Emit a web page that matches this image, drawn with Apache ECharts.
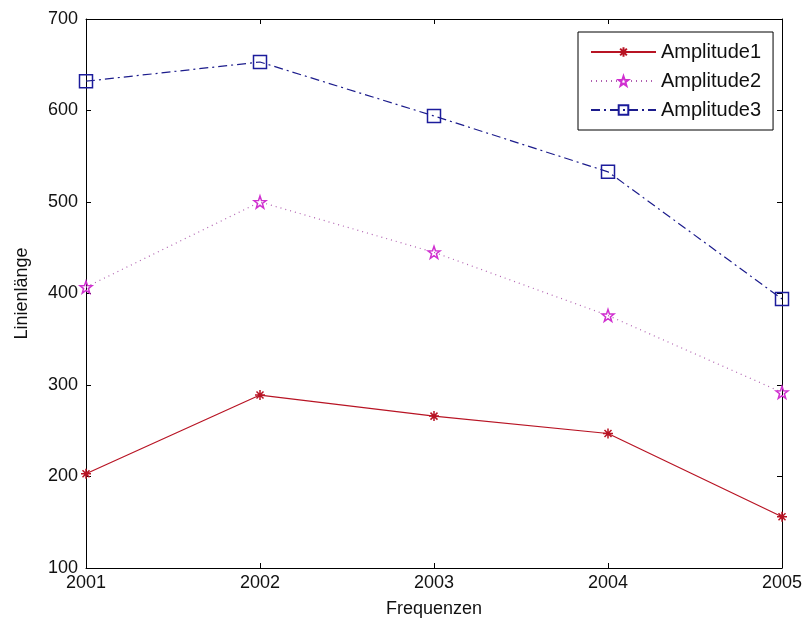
<!DOCTYPE html>
<html><head><meta charset="utf-8">
<script src="https://cdn.jsdelivr.net/npm/echarts@6/dist/echarts.min.js"></script>
<style>html,body{margin:0;padding:0;background:#fff}#c{width:807px;height:625px}</style>
</head><body><div id="c"></div>
<script>
const years = [2001, 2002, 2003, 2004, 2005];
const amplitude1 = [203, 289, 266, 247, 156];
const amplitude2 = [407, 500, 445, 376, 292];
const amplitude3 = [632, 653, 594, 533, 394];
const seriesNames = ['Amplitude1', 'Amplitude2', 'Amplitude3'];
const yTicks = [100, 200, 300, 400, 500, 600, 700];

const pair = arr => years.map((y, i) => [y, arr[i]]);
const font = 'Liberation Sans, Arial, sans-serif';
const asterisk = 'path://M0,-10L0,10M-10,0L10,0M-7,-7L7,7M-7,7L7,-7';
const star = 'path://M0,-10L2.35,-3.24L9.51,-3.09L3.8,1.24L5.88,8.09L0,4L-5.88,8.09L-3.8,1.24L-9.51,-3.09L-2.35,-3.24Z';

const chart = echarts.init(document.getElementById('c'));
const axisCommon = {
  axisLine: {show: true, lineStyle: {color: '#000', width: 1}},
  axisTick: {show: true, inside: true, length: 5, lineStyle: {color: '#000'}},
  splitLine: {show: false}
};
chart.setOption({
  animation: false,
  backgroundColor: '#fff',
  textStyle: {fontFamily: font},
  grid: {left: 86, right: 25, top: 19, bottom: 57},
  legend: {
    orient: 'vertical', left: 578, top: 32,
    data: seriesNames,
    backgroundColor: '#fff', borderColor: '#000', borderWidth: 1,
    padding: [10, 12, 10, 12], itemWidth: 65, itemHeight: 12, itemGap: 9,
    textStyle: {fontSize: 20, color: '#111', fontFamily: font}
  },
  xAxis: [
    Object.assign({type: 'value', min: 2001, max: 2005, interval: 1, position: 'bottom',
      name: 'Frequenzen', nameLocation: 'middle', nameGap: 32,
      nameTextStyle: {fontSize: 18, color: '#111'},
      axisLabel: {fontSize: 18, color: '#111', margin: 6, formatter: v => String(v)}}, axisCommon),
    Object.assign({type: 'value', min: 2001, max: 2005, interval: 1, position: 'top',
      axisLabel: {show: false}}, axisCommon)
  ],
  yAxis: [
    Object.assign({type: 'value', min: yTicks[0], max: yTicks[yTicks.length - 1], interval: 100,
      position: 'left', name: 'Linienlänge', nameLocation: 'middle', nameGap: 55,
      nameTextStyle: {fontSize: 18, color: '#111'},
      axisLabel: {fontSize: 18, color: '#111', margin: 8}}, axisCommon),
    Object.assign({type: 'value', min: yTicks[0], max: yTicks[yTicks.length - 1], interval: 100,
      position: 'right', axisLabel: {show: false}}, axisCommon)
  ],
  series: [
    {name: seriesNames[0], type: 'line', data: pair(amplitude1),
      symbol: asterisk, symbolSize: 10,
      lineStyle: {color: '#b81424', width: 1.2, type: 'solid'},
      itemStyle: {color: 'rgba(0,0,0,0)', borderColor: '#b81424', borderWidth: 1.5}},
    {name: seriesNames[1], type: 'line', data: pair(amplitude2),
      symbol: star, symbolSize: 12,
      lineStyle: {color: '#b060b0', width: 1.2, type: [1, 4]},
      itemStyle: {color: 'rgba(0,0,0,0)', borderColor: '#d030d0', borderWidth: 1.5}},
    {name: seriesNames[2], type: 'line', data: pair(amplitude3),
      symbol: 'rect', symbolSize: 13,
      lineStyle: {color: '#1c1c8c', width: 1.2, type: [9, 4, 2, 4]},
      itemStyle: {color: 'rgba(0,0,0,0)', borderColor: '#1c1c9c', borderWidth: 1.5}}
  ]
});
</script></body></html>
